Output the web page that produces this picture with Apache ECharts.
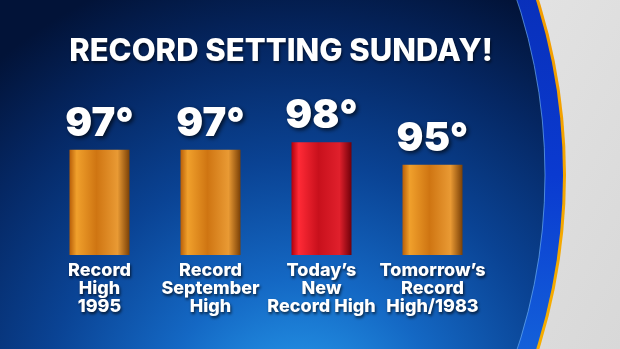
<!DOCTYPE html>
<html>
<head>
<meta charset="utf-8">
<script src="https://cdn.jsdelivr.net/npm/echarts@6/dist/echarts.min.js"></script>
<style>
html,body{margin:0;padding:0;background:#e8e8e8;}
#chart{width:620px;height:349px;}
</style>
</head>
<body>
<div id="chart"></div>
<script>
var titleText = 'RECORD SETTING SUNDAY!';
var categories = ['Record\nHigh\n1995', 'Record\nSeptember\nHigh', 'Today\u2019s\nNew\nRecord High', 'Tomorrow\u2019s\nRecord\nHigh/1983'];
var temperatures = [97, 97, 98, 95];
var newRecordIndex = 2;

var FONT = 'Inter, "Open Sans", "DejaVu Sans", sans-serif';

function cylinder(c) {
  return new echarts.graphic.LinearGradient(0, 0, 1, 0, [
    {offset: 0, color: c[0]},
    {offset: 0.12, color: c[1]},
    {offset: 0.45, color: c[2]},
    {offset: 0.8, color: c[3]},
    {offset: 1, color: c[4]}
  ]);
}
var orange = cylinder(['#b95f08', '#f0a02c', '#cf7512', '#e99a34', '#7a4006']);
var red = cylinder(['#b0000c', '#ff2a36', '#c8101c', '#e0202c', '#70000a']);

var chart = echarts.init(document.getElementById('chart'), null, {renderer: 'canvas'});
chart.setOption({
  animation: false,
  backgroundColor: '#e6e6e6',
  graphic: [
    {type: 'rect', z: -10, shape: {x: 0, y: 0, width: 620, height: 349},
     style: {fill: new echarts.graphic.LinearGradient(0, 0, 1, 1, [{offset: 0, color: '#f6f6f6'}, {offset: 1, color: '#d8d8d8'}])}},
    {type: 'circle', z: -9, shape: {cx: -16, cy: 175, r: 582},
     style: {fill: new echarts.graphic.LinearGradient(0, 0, 0, 1, [{offset: 0, color: '#f08a00'}, {offset: 1, color: '#f8c000'}])}},
    {type: 'circle', z: -8, shape: {cx: -16, cy: 175, r: 579},
     style: {fill: new echarts.graphic.LinearGradient(0, 0, 0, 1, [{offset: 0, color: '#061a8a'}, {offset: 0.5, color: '#0a3ad0'}, {offset: 1, color: '#28b8f0'}])}},
    {type: 'circle', z: -7, shape: {cx: -16, cy: 175, r: 561},
     style: {fill: new echarts.graphic.RadialGradient(300, 420, 470, [
       {offset: 0, color: '#2aa4f4'},
       {offset: 0.3, color: '#1468c4'},
       {offset: 0.55, color: '#0a4394'},
       {offset: 0.8, color: '#052763'},
       {offset: 1, color: '#021338'}
     ], true), stroke: 'rgba(120,190,255,0.6)', lineWidth: 1}},
    {type: 'text', z: 10, x: 281, y: 52,
     style: {text: titleText, fill: '#ffffff', font: '800 31px ' + FONT, align: 'center', verticalAlign: 'middle',
       textShadowColor: 'rgba(0,0,0,0.6)', textShadowBlur: 3, textShadowOffsetX: 1, textShadowOffsetY: 2}}
  ],
  grid: {left: 44, width: 444, top: 52, bottom: 94, containLabel: false},
  xAxis: {
    type: 'category',
    data: categories,
    axisLine: {show: false},
    axisTick: {show: false},
    axisLabel: {
      interval: 0, margin: 7, color: '#ffffff', fontFamily: FONT, fontWeight: 800,
      fontSize: 18, lineHeight: 18, align: 'center',
      textShadowColor: 'rgba(0,0,0,0.7)', textShadowBlur: 3, textShadowOffsetX: 1, textShadowOffsetY: 2
    }
  },
  yAxis: {type: 'value', min: 83, max: 110, show: false, splitLine: {show: false}},
  series: [{
    type: 'bar',
    data: temperatures,
    barWidth: 60,
    itemStyle: {
      color: function (p) { return p.dataIndex === newRecordIndex ? red : orange; }
    },
    label: {
      show: true, position: 'top', distance: 6,
      formatter: '{c}\u00b0', color: '#ffffff', fontFamily: FONT, fontWeight: 900, fontSize: 40,
      textShadowColor: 'rgba(0,0,0,0.7)', textShadowBlur: 4, textShadowOffsetX: 2, textShadowOffsetY: 2
    }
  }]
});
</script>
</body>
</html>
